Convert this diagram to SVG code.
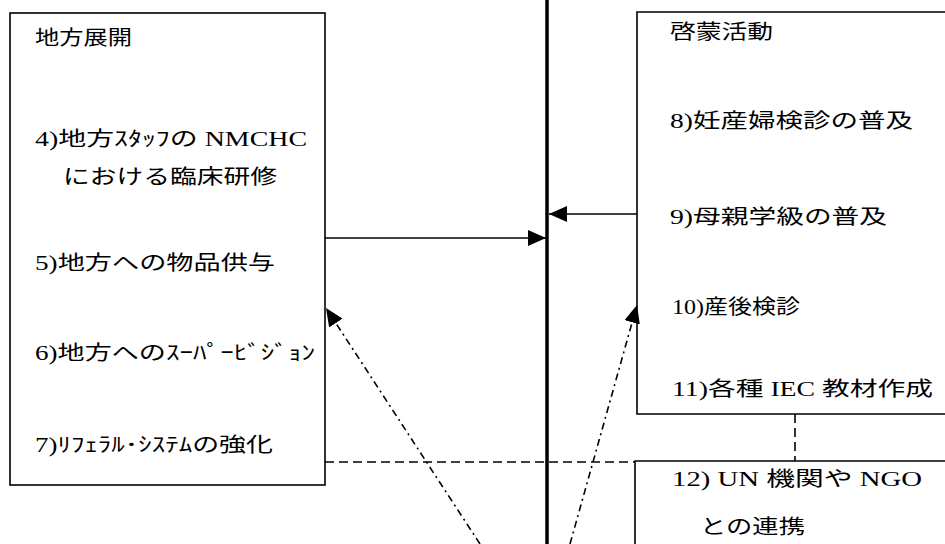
<svg xmlns="http://www.w3.org/2000/svg" width="945" height="544" viewBox="0 0 945 544">
<defs>
<style>
.t{font-family:"Liberation Serif","Noto Sans CJK JP",serif;font-size:20px;fill:#000}
.box{fill:none;stroke:#000;stroke-width:1.6}
.ln{fill:none;stroke:#000;stroke-width:1.6}
.dash{fill:none;stroke:#000;stroke-width:1.6;stroke-dasharray:9 5}
.dd{fill:none;stroke:#000;stroke-width:1.6;stroke-dasharray:7 4 2 4}
</style>
<marker id="ah" markerWidth="18" markerHeight="16" refX="18" refY="8" orient="auto" markerUnits="userSpaceOnUse">
<path d="M0,0 L18,8 L0,16 z" fill="#000"/>
</marker>
</defs>
<rect width="945" height="544" fill="#fff"/>
<g id="left-box">
<rect class="box" x="10" y="13" width="315" height="472"/>
<text class="t" x="35" y="45" textLength="97" lengthAdjust="spacingAndGlyphs">地方展開</text>
<text class="t" x="35" y="146" textLength="272" lengthAdjust="spacingAndGlyphs">4)地方ｽﾀｯﾌの NMCHC</text>
<text class="t" x="63" y="184" textLength="214" lengthAdjust="spacingAndGlyphs">における臨床研修</text>
<text class="t" x="35" y="270" textLength="240" lengthAdjust="spacingAndGlyphs">5)地方への物品供与</text>
<text class="t" x="35" y="360" textLength="280" lengthAdjust="spacingAndGlyphs">6)地方へのｽｰﾊﾟｰﾋﾞｼﾞｮﾝ</text>
<text class="t" x="35" y="452" textLength="238" lengthAdjust="spacingAndGlyphs">7)ﾘﾌｪﾗﾙ･ｼｽﾃﾑの強化</text>
</g>
<g id="right-box">
<path class="box" d="M946 12 H637 V414 H946"/>
<text class="t" x="670" y="39" textLength="103" lengthAdjust="spacingAndGlyphs">啓蒙活動</text>
<text class="t" x="670" y="128" textLength="243" lengthAdjust="spacingAndGlyphs">8)妊産婦検診の普及</text>
<text class="t" x="670" y="224" textLength="217" lengthAdjust="spacingAndGlyphs">9)母親学級の普及</text>
<text class="t" x="672" y="314" textLength="128" lengthAdjust="spacingAndGlyphs">10)産後検診</text>
<text class="t" x="672" y="396" textLength="261" lengthAdjust="spacingAndGlyphs">11)各種 IEC 教材作成</text>
</g>
<g id="un-box">
<path class="box" d="M946 461 H635 V545"/>
<text class="t" x="672" y="486" textLength="250" lengthAdjust="spacingAndGlyphs">12) UN 機関や NGO</text>
<text class="t" x="700" y="534" textLength="105" lengthAdjust="spacingAndGlyphs">との連携</text>
</g>
<g id="connectors">
<line x1="547" y1="0" x2="547" y2="544" stroke="#000" stroke-width="3.5"/>
<line class="ln" x1="325" y1="238" x2="546" y2="238" marker-end="url(#ah)"/>
<line class="ln" x1="637" y1="214" x2="549" y2="214" marker-end="url(#ah)"/>
<line class="dash" x1="325" y1="462" x2="635" y2="462"/>
<line class="dash" x1="795" y1="414" x2="795" y2="461"/>
<line class="dd" x1="480" y1="544" x2="326" y2="308" marker-end="url(#ah)"/>
<line class="dd" x1="570" y1="544" x2="637" y2="305" marker-end="url(#ah)"/>
</g>
</svg>
